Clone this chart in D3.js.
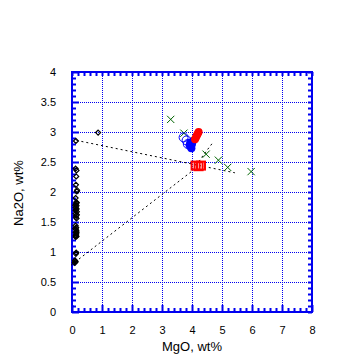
<!DOCTYPE html>
<html>
<head>
<meta charset="utf-8">
<script src="https://cdn.jsdelivr.net/npm/d3@7"></script>
<style>
  html, body { margin: 0; padding: 0; background: #fff; }
  svg { display: block; font-family: "Liberation Sans", Arial, Helvetica, sans-serif; }
</style>
</head>
<body>
<svg id="chart" width="360" height="360"></svg>
<script>
// ---- data ----
const xTicks = [0, 1, 2, 3, 4, 5, 6, 7, 8];
const yTicks = [0, 0.5, 1, 1.5, 2, 2.5, 3, 3.5, 4];
const xLabel = "MgO, wt%";
const yLabel = "Na2O, wt%";

// black open diamonds (MgO, Na2O)
const diamondMgO = [0.87, 0.13, 0.12, 0.15, 0.14, 0.13, 0.17, 0.16, 0.12, 0.14,
  0.13, 0.15, 0.12, 0.14, 0.16, 0.12, 0.14, 0.13, 0.15, 0.12, 0.14, 0.13,
  0.15, 0.12, 0.14, 0.13, 0.15, 0.12, 0.14, 0.13, 0.10, 0.12, 0.11, 0.09,
  0.16, 0.11, 0.15, 0.12, 0.16, 0.11, 0.15, 0.13];
const diamondNa2O = [2.99, 2.85, 2.39, 2.36, 2.26, 2.12, 2.03, 2.01, 1.90, 1.83,
  1.80, 1.77, 1.74, 1.71, 1.67, 1.64, 1.61, 1.58, 1.56, 1.44, 1.41, 1.38,
  1.35, 1.33, 1.30, 1.28, 1.26, 1.25, 0.99, 0.97, 0.86, 0.84, 0.83, 0.82,
  1.82, 1.78, 1.72, 1.69, 1.62, 1.39, 1.32, 1.27];

// green crosses
const crossMgO = [3.29, 3.73, 4.47, 4.88, 5.19, 5.97];
const crossNa2O = [3.21, 2.98, 2.63, 2.53, 2.41, 2.34];

// blue open circles
const blueOpenMgO = [3.72, 3.82, 3.86];
const blueOpenNa2O = [2.91, 2.86, 2.80];

// blue filled circles
const blueMgO = [3.92, 3.96, 3.94, 4.00, 4.03, 3.98];
const blueNa2O = [2.78, 2.75, 2.82, 2.80, 2.85, 2.73];

// red filled circles
const redMgO = [4.10, 4.13, 4.16, 4.19, 4.22];
const redNa2O = [2.88, 2.91, 2.94, 2.97, 3.00];

// red open squares
const squareMgO = [4.12, 4.22, 4.30];
const squareNa2O = [2.44, 2.43, 2.44];

// dotted mixing lines (vertices)
const upperLineMgO = [0.15, 5.43];
const upperLineNa2O = [2.86, 2.32];
const lowerLineMgO = [-0.03, 4.03, 4.37, 4.72];
const lowerLineNa2O = [0.78, 2.36, 2.61, 2.84];

// ---- drawing ----
const svg = d3.select("#chart");
const x = d3.scaleLinear().domain([0, 8]).range([72, 312]);
const y = d3.scaleLinear().domain([0, 4]).range([312, 72]);
const blue = "#0000f0";

const minorX = d3.range(0, 8.0001, 0.2).filter(v => Math.abs(v - Math.round(v)) > 1e-6);
const minorY = d3.range(0, 4.0001, 0.1).filter(v => Math.abs(v * 2 - Math.round(v * 2)) > 1e-6);

// grid
const grid = svg.append("g").attr("stroke", blue).attr("stroke-width", 1)
  .attr("stroke-dasharray", "1,1").attr("shape-rendering", "crispEdges");
grid.selectAll(".gx").data(xTicks.slice(1, -1)).join("line")
  .attr("x1", d => Math.round(x(d)) + 0.5).attr("x2", d => Math.round(x(d)) + 0.5)
  .attr("y1", y(4)).attr("y2", y(0));
grid.selectAll(".gy").data(yTicks.slice(1, -1)).join("line")
  .attr("y1", d => Math.round(y(d)) + 0.5).attr("y2", d => Math.round(y(d)) + 0.5)
  .attr("x1", x(0)).attr("x2", x(8));

function styleAxis(g) {
  g.select(".domain").remove();
  g.selectAll(".tick line").attr("stroke", blue).attr("stroke-width", 2);
  g.selectAll("text").attr("fill", "#000").attr("font-size", 11)
    .attr("font-family", '"Liberation Sans", Arial, sans-serif');
}

// bottom major
svg.append("g").attr("transform", `translate(0,${y(0)})`)
  .call(d3.axisBottom(x).tickValues(xTicks).tickFormat(d3.format("~g")).tickSize(-7).tickPadding(14))
  .call(styleAxis);
// bottom minor
svg.append("g").attr("transform", `translate(0,${y(0)})`)
  .call(d3.axisBottom(x).tickValues(minorX).tickFormat("").tickSize(-4))
  .call(styleAxis);
// top
svg.append("g").attr("transform", `translate(0,${y(4)})`)
  .call(d3.axisTop(x).tickValues(xTicks.concat(minorX)).tickFormat("").tickSize(-4))
  .call(styleAxis);
// left major
svg.append("g").attr("transform", `translate(${x(0)},0)`)
  .call(d3.axisLeft(y).tickValues(yTicks).tickFormat(d3.format("~g")).tickSize(-7).tickPadding(16))
  .call(styleAxis);
// left minor
svg.append("g").attr("transform", `translate(${x(0)},0)`)
  .call(d3.axisLeft(y).tickValues(minorY).tickFormat("").tickSize(-4))
  .call(styleAxis);
// right
svg.append("g").attr("transform", `translate(${x(8)},0)`)
  .call(d3.axisRight(y).tickValues(yTicks.concat(minorY)).tickFormat("").tickSize(-4))
  .call(styleAxis);

// frame
svg.append("rect").attr("x", x(0)).attr("y", y(4))
  .attr("width", x(8) - x(0)).attr("height", y(0) - y(4))
  .attr("fill", "none").attr("stroke", blue).attr("stroke-width", 2);

// axis titles
svg.append("text").attr("x", 192).attr("y", 351).attr("text-anchor", "middle")
  .attr("font-size", 13).text(xLabel);
svg.append("text").attr("transform", "translate(23,193) rotate(-90)")
  .attr("text-anchor", "middle").attr("font-size", 13).text(yLabel);

// data layer
const plot = svg.append("g");

// black diamonds
const diamonds = diamondMgO.map((v, i) => ({ x: v, y: diamondNa2O[i] }));
plot.selectAll(".dia").data(diamonds).join("path")
  .attr("d", d3.symbol(d3.symbolDiamond2, 16))
  .attr("transform", d => `translate(${x(d.x)},${y(d.y)})`)
  .attr("fill", "none").attr("stroke", "#000").attr("stroke-width", 1.2);

// mixing lines
const lineGen = d3.line().x(d => x(d[0])).y(d => y(d[1]));
[[upperLineMgO, upperLineNa2O], [lowerLineMgO, lowerLineNa2O]].forEach(([mx, ny]) => {
  plot.append("path").attr("d", lineGen(mx.map((v, i) => [v, ny[i]])))
    .attr("fill", "none").attr("stroke", "#000").attr("stroke-width", 1)
    .attr("stroke-dasharray", "2,3");
});

// green crosses
const crosses = crossMgO.map((v, i) => ({ x: v, y: crossNa2O[i] }));
plot.selectAll(".cross").data(crosses).join("path")
  .attr("d", d3.symbol(d3.symbolTimes, 36))
  .attr("transform", d => `translate(${x(d.x)},${y(d.y)})`)
  .attr("fill", "none").attr("stroke", "#006400").attr("stroke-width", 1);

// blue open circles
plot.selectAll(".bo").data(blueOpenMgO.map((v, i) => ({ x: v, y: blueOpenNa2O[i] }))).join("circle")
  .attr("cx", d => x(d.x)).attr("cy", d => y(d.y)).attr("r", 4.5)
  .attr("fill", "none").attr("stroke", "#0000ff").attr("stroke-width", 1);

// blue filled circles
plot.selectAll(".bf").data(blueMgO.map((v, i) => ({ x: v, y: blueNa2O[i] }))).join("circle")
  .attr("cx", d => x(d.x)).attr("cy", d => y(d.y)).attr("r", 4)
  .attr("fill", "#0000ff");

// red filled circles
plot.selectAll(".rf").data(redMgO.map((v, i) => ({ x: v, y: redNa2O[i] }))).join("circle")
  .attr("cx", d => x(d.x)).attr("cy", d => y(d.y)).attr("r", 4)
  .attr("fill", "#ff0000");

// red open squares
plot.selectAll(".rs").data(squareMgO.map((v, i) => ({ x: v, y: squareNa2O[i] }))).join("rect")
  .attr("x", d => x(d.x) - 4).attr("y", d => y(d.y) - 4)
  .attr("width", 8).attr("height", 8)
  .attr("fill", "none").attr("stroke", "#ff0000").attr("stroke-width", 2);
</script>
</body>
</html>
